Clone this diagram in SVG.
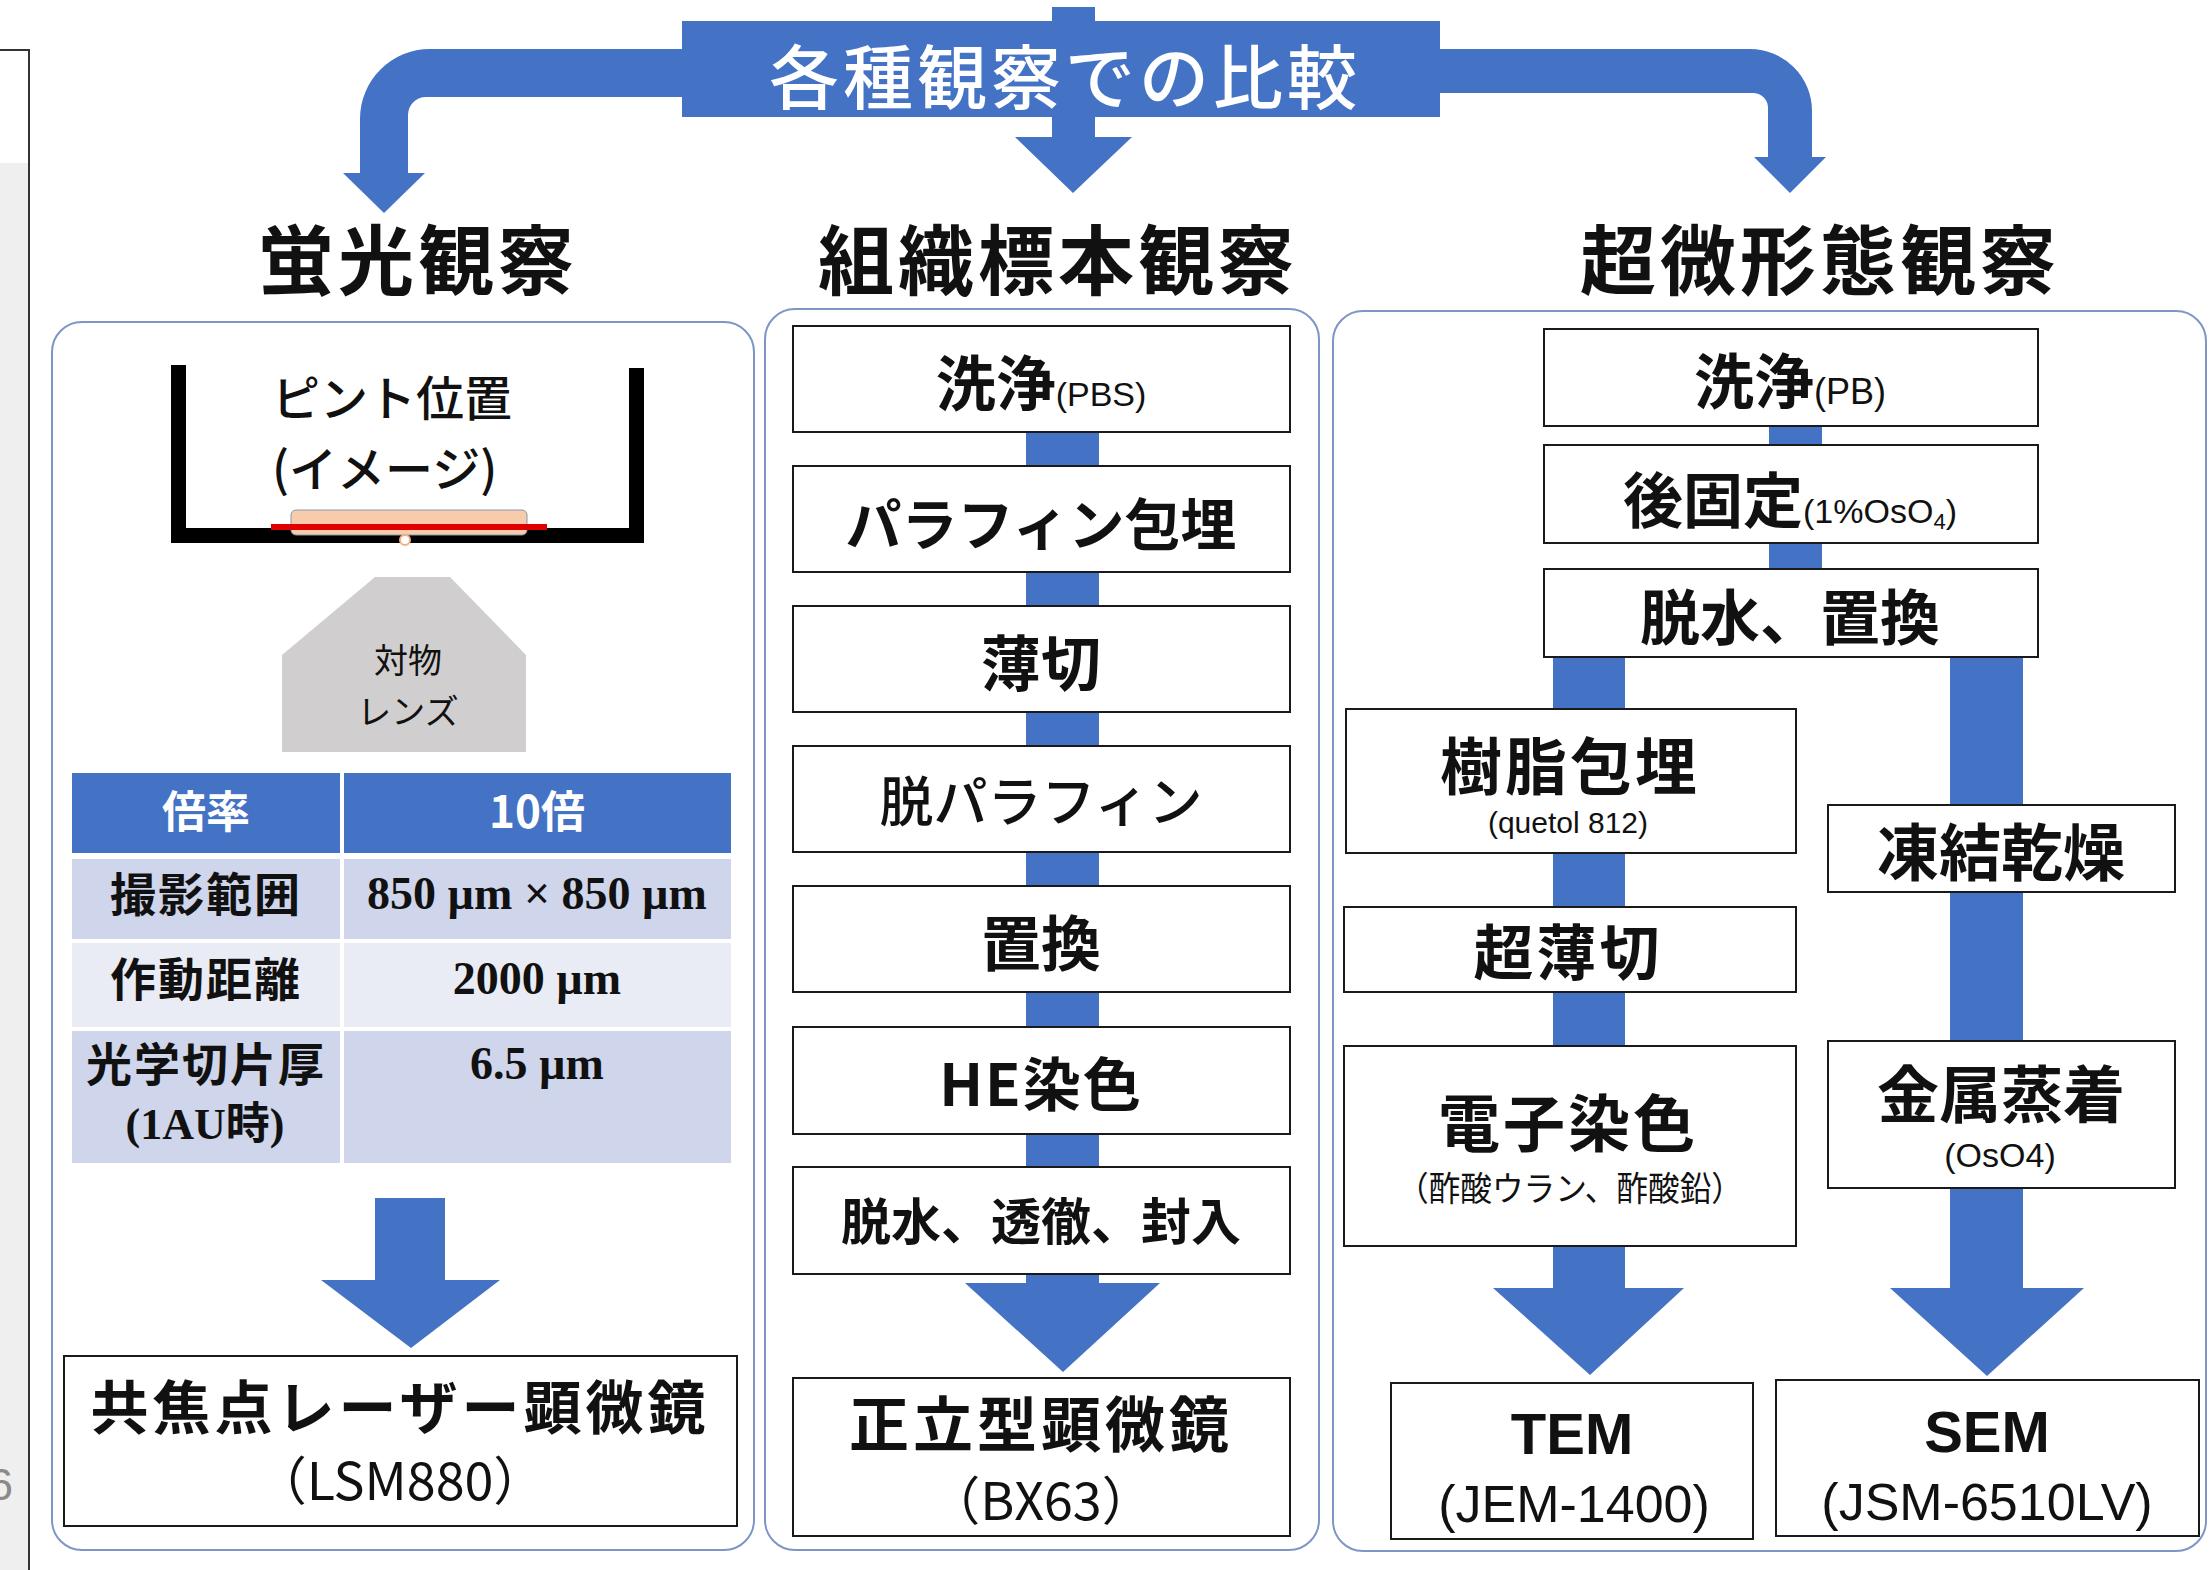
<svg xmlns="http://www.w3.org/2000/svg" width="2210" height="1570" viewBox="0 0 2210 1570">
  <style>
    .jp { font-family: "Noto Sans CJK JP", "Noto Sans", sans-serif; }
    .b { font-weight: 700; }
    .m { font-weight: 500; }
    .r { font-weight: 400; }
    .lat { font-family: "Liberation Sans", Arial, "Noto Sans CJK JP", sans-serif; }
    .ser { font-family: "Liberation Serif", "Times New Roman", "Noto Sans CJK JP", serif; font-weight: 700; }
    .box { fill: #ffffff; stroke: #1a1a1a; stroke-width: 2; }
    .panel { fill: #ffffff; stroke: #7f95c6; stroke-width: 2; }
    .flow { fill: #4472c4; }
    .t { fill: #111111; text-anchor: middle; }
    .w { fill: #ffffff; text-anchor: middle; }
    .cell { stroke: #ffffff; stroke-width: 4; }
  </style>

  <!-- page background -->
  <rect x="0" y="0" width="2210" height="1570" fill="#ffffff"/>

  <!-- side strip at the left edge -->
  <g id="side-strip">
    <rect x="0" y="163" width="28" height="1407" fill="#efefef"/>
    <path d="M0 50 H29 V1570" fill="none" stroke="#333333" stroke-width="2"/>
    <text x="13" y="1500" font-family="Liberation Sans, sans-serif" font-size="44" fill="#8a8a8a" text-anchor="end">6</text>
  </g>

  <!-- column panels -->
  <g id="panels">
    <rect class="panel" x="52" y="322" width="702" height="1228" rx="30"/>
    <rect class="panel" x="765" y="309" width="554" height="1241" rx="30"/>
    <rect class="panel" x="1333" y="311" width="873" height="1240" rx="30"/>
  </g>

  <!-- connectors: branching arrows and flow bars -->
  <g id="connectors">
    <!-- left branch -->
    <path class="flow" d="M700 49 H430 A70 70 0 0 0 360 119 V173 H343 L384 213 L425 173 H408 V115 A18 18 0 0 1 426 97 H700 Z"/>
    <!-- right branch -->
    <path class="flow" d="M1420 49 H1750 A62 62 0 0 1 1812 111 V157 H1826 L1790 193 L1754 157 H1768 V107 A15 15 0 0 0 1753 93 H1420 Z"/>
    <!-- centre branch -->
    <path class="flow" d="M1052 7 H1095 V137 H1132 L1073 193 L1015 137 H1052 Z"/>

    <!-- fluorescence column arrow -->
    <path class="flow" d="M375 1198 H445 V1280 H500 L411 1348 L321 1280 H375 Z"/>

    <!-- histology column bar + arrow -->
    <path class="flow" d="M1026 432 H1099 V1283 H1160 L1063 1372 L965 1283 H1026 Z"/>

    <!-- ultrastructure: common trunk -->
    <rect class="flow" x="1769" y="420" width="53" height="155"/>
    <!-- TEM branch -->
    <path class="flow" d="M1553 650 H1625 V1288 H1684 L1590 1375 L1493 1288 H1553 Z"/>
    <!-- SEM branch -->
    <path class="flow" d="M1950 650 H2023 V1288 H2084 L1987 1376 L1890 1288 H1950 Z"/>
  </g>

  <!-- heading banner -->
  <g id="banner">
    <rect x="682" y="21" width="758" height="96" fill="#4472c4"/>
    <text class="jp m w" x="1065" y="104" font-size="70" letter-spacing="4">各種観察での比較</text>
  </g>

  <!-- column titles -->
  <g id="title-fluo"><text class="jp b t" x="418" y="289" font-size="76" letter-spacing="4">蛍光観察</text></g>
  <g id="title-histo"><text class="jp b t" x="1058" y="289" font-size="76" letter-spacing="4">組織標本観察</text></g>
  <g id="title-ultra"><text class="jp b t" x="1820" y="289" font-size="76" letter-spacing="4">超微形態観察</text></g>

  <!-- ===== fluorescence column ===== -->
  <g id="dish">
    <rect x="171" y="365" width="15" height="178" fill="#000000"/>
    <rect x="629" y="368" width="15" height="175" fill="#000000"/>
    <rect x="171" y="528" width="473" height="15" fill="#000000"/>
    <rect x="291" y="510" width="236" height="25" rx="5" fill="#f8cbad" stroke="#8497b0" stroke-width="1"/>
    <rect x="271" y="524" width="276" height="6" fill="#e00000"/>
    <circle cx="405" cy="540" r="5" fill="#ffffff" stroke="#f4b183" stroke-width="2"/>
    <text class="jp m" x="272" y="416" font-size="48" fill="#111111">ピント位置</text>
    <text class="jp m" x="272" y="487" font-size="48" fill="#111111">(イメージ)</text>
  </g>

  <g id="lens">
    <polygon points="375,577 450,577 526,655 526,752 282,752 282,655" fill="#d0cece"/>
    <text class="jp r t" x="408" y="673" font-size="34">対物</text>
    <text class="jp r t" x="408" y="724" font-size="34">レンズ</text>
  </g>

  <g id="spec-table">
    <rect class="cell" x="70" y="771" width="272" height="84" fill="#4472c4"/>
    <rect class="cell" x="342" y="771" width="391" height="84" fill="#4472c4"/>
    <rect class="cell" x="70" y="857" width="272" height="84" fill="#cfd5ea"/>
    <rect class="cell" x="342" y="857" width="391" height="84" fill="#cfd5ea"/>
    <rect class="cell" x="70" y="941" width="272" height="88" fill="#e9ebf5"/>
    <rect class="cell" x="342" y="941" width="391" height="88" fill="#e9ebf5"/>
    <rect class="cell" x="70" y="1029" width="272" height="136" fill="#cfd5ea"/>
    <rect class="cell" x="342" y="1029" width="391" height="136" fill="#cfd5ea"/>
    <text class="jp b w" x="206" y="828" font-size="44">倍率</text>
    <text class="jp b w" x="537" y="828" font-size="44">10倍</text>
    <text class="jp b t" x="206" y="911" font-size="46" letter-spacing="2">撮影範囲</text>
    <text class="ser t" x="537" y="909" font-size="46">850 µm × 850 µm</text>
    <text class="jp b t" x="206" y="996" font-size="46" letter-spacing="2">作動距離</text>
    <text class="ser t" x="537" y="994" font-size="46">2000 µm</text>
    <text class="jp b t" x="206" y="1081" font-size="46" letter-spacing="2">光学切片厚</text>
    <text class="ser t" x="205" y="1139" font-size="44">(1AU時)</text>
    <text class="ser t" x="537" y="1079" font-size="46">6.5 µm</text>
  </g>

  <g id="lsm880">
    <rect class="box" x="64" y="1356" width="673" height="170"/>
    <text class="jp b t" x="400" y="1429" font-size="58" letter-spacing="4">共焦点レーザー顕微鏡</text>
    <text class="jp r t" x="400" y="1500" font-size="52">（LSM880）</text>
  </g>

  <!-- ===== histology column ===== -->
  <g id="h-wash">
    <rect class="box" x="793" y="326" width="497" height="106"/>
    <text class="t" x="1041" y="406"><tspan class="jp b" font-size="60">洗浄</tspan><tspan class="lat r" font-size="34">(PBS)</tspan></text>
  </g>
  <g id="h-embed">
    <rect class="box" x="793" y="466" width="497" height="106"/>
    <text class="jp b t" x="1041" y="545" font-size="56">パラフィン包埋</text>
  </g>
  <g id="h-section">
    <rect class="box" x="793" y="606" width="497" height="106"/>
    <text class="jp b t" x="1041" y="686" font-size="60">薄切</text>
  </g>
  <g id="h-deparaffin">
    <rect class="box" x="793" y="746" width="497" height="106"/>
    <text class="jp m t" x="1041" y="822" font-size="54">脱パラフィン</text>
  </g>
  <g id="h-replace">
    <rect class="box" x="793" y="886" width="497" height="106"/>
    <text class="jp b t" x="1041" y="966" font-size="60">置換</text>
  </g>
  <g id="h-stain">
    <rect class="box" x="793" y="1027" width="497" height="107"/>
    <text class="jp b t" x="1041" y="1106" font-size="58" letter-spacing="2">HE染色</text>
  </g>
  <g id="h-mount">
    <rect class="box" x="793" y="1167" width="497" height="107"/>
    <text class="jp b t" x="1041" y="1240" font-size="50">脱水、透徹、封入</text>
  </g>
  <g id="bx63">
    <rect class="box" x="793" y="1378" width="497" height="158"/>
    <text class="jp b t" x="1041" y="1447" font-size="60" letter-spacing="4">正立型顕微鏡</text>
    <text class="jp r t" x="1041" y="1520" font-size="52">（BX63）</text>
  </g>

  <!-- ===== ultrastructure column ===== -->
  <g id="u-wash">
    <rect class="box" x="1544" y="329" width="494" height="97"/>
    <text class="t" x="1790" y="404"><tspan class="jp b" font-size="60">洗浄</tspan><tspan class="lat r" font-size="36">(PB)</tspan></text>
  </g>
  <g id="u-postfix">
    <rect class="box" x="1544" y="445" width="494" height="98"/>
    <text class="t" x="1790" y="523"><tspan class="jp b" font-size="60">後固定</tspan><tspan class="lat r" font-size="34">(1%OsO</tspan><tspan class="lat r" font-size="22" dy="6">4</tspan><tspan class="lat r" font-size="34" dy="-6">)</tspan></text>
  </g>
  <g id="u-dehydrate">
    <rect class="box" x="1544" y="569" width="494" height="88"/>
    <text class="jp b t" x="1790" y="640" font-size="60">脱水、置換</text>
  </g>
  <g id="u-resin">
    <rect class="box" x="1346" y="709" width="450" height="144"/>
    <text class="jp b t" x="1570" y="790" font-size="62" letter-spacing="3">樹脂包埋</text>
    <text class="lat r t" x="1568" y="833" font-size="30">(quetol 812)</text>
  </g>
  <g id="u-freezedry">
    <rect class="box" x="1828" y="805" width="347" height="87"/>
    <text class="jp b t" x="2001" y="876" font-size="62">凍結乾燥</text>
  </g>
  <g id="u-ultrathin">
    <rect class="box" x="1344" y="907" width="452" height="85"/>
    <text class="jp b t" x="1568" y="975" font-size="60" letter-spacing="3">超薄切</text>
  </g>
  <g id="u-estain">
    <rect class="box" x="1344" y="1046" width="452" height="200"/>
    <text class="jp b t" x="1568" y="1147" font-size="62" letter-spacing="3">電子染色</text>
    <text class="jp r t" x="1570" y="1201" font-size="34" textLength="346" lengthAdjust="spacingAndGlyphs">（酢酸ウラン、酢酸鉛）</text>
  </g>
  <g id="u-coat">
    <rect class="box" x="1828" y="1041" width="347" height="147"/>
    <text class="jp b t" x="2001" y="1118" font-size="62">金属蒸着</text>
    <text class="lat r t" x="2000" y="1167" font-size="34">(OsO4)</text>
  </g>
  <g id="tem">
    <rect class="box" x="1391" y="1383" width="362" height="156"/>
    <text class="lat b t" x="1572" y="1454" font-size="58">TEM</text>
    <text class="lat r t" x="1574" y="1522" font-size="52">(JEM-1400)</text>
  </g>
  <g id="sem">
    <rect class="box" x="1776" y="1380" width="423" height="156"/>
    <text class="lat b t" x="1987" y="1452" font-size="58">SEM</text>
    <text class="lat r t" x="1987" y="1520" font-size="52">(JSM-6510LV)</text>
  </g>
</svg>
